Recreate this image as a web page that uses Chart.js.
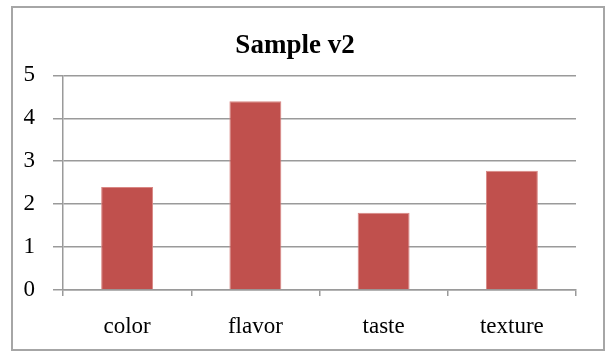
<!DOCTYPE html>
<html>
<head>
<meta charset="utf-8">
<script src="https://cdn.jsdelivr.net/npm/chart.js@4/dist/chart.umd.min.js"></script>
<style>
  html, body { margin: 0; padding: 0; background: #fff; }
  #wrap { width: 606px; height: 352px; }
</style>
</head>
<body>
<div id="wrap"><canvas id="c" width="606" height="352"></canvas></div>
<script>
// Chart data
const categories = ['color', 'flavor', 'taste', 'texture'];
const scores = [2.4, 4.4, 1.8, 2.78];
const yTicks = [0, 1, 2, 3, 4, 5];
const chartTitle = 'Sample v2';

const GRID = '#9a9a9a';
const SERIF = '"Liberation Serif", "Times New Roman", serif';

// White background with a thin grey frame around the chart
const frame = {
  id: 'frame',
  beforeDraw(chart) {
    const ctx = chart.ctx;
    ctx.save();
    ctx.fillStyle = '#ffffff';
    ctx.fillRect(0, 0, chart.width, chart.height);
    ctx.strokeStyle = '#a6a6a6';
    ctx.lineWidth = 2;
    ctx.strokeRect(12, 7, 592, 343);
    ctx.restore();
  }
};

new Chart(document.getElementById('c'), {
  type: 'bar',
  data: {
    labels: categories,
    datasets: [{
      data: scores,
      backgroundColor: '#c0504d',
      borderColor: '#d98784',
      borderWidth: 1,
      categoryPercentage: 1,
      barPercentage: 0.405
    }]
  },
  options: {
    responsive: false,
    animation: false,
    layout: { padding: { top: 10, left: 14, right: 30, bottom: 8 } },
    plugins: {
      legend: { display: false },
      tooltip: { enabled: false },
      title: {
        display: true,
        text: chartTitle,
        color: '#000',
        font: { family: SERIF, size: 27, weight: 'bold', lineHeight: 1.2 },
        padding: { top: 20, bottom: 13 }
      }
    },
    scales: {
      x: {
        grid: { display: true, drawOnChartArea: false, drawTicks: true, tickLength: 6, color: GRID, lineWidth: 1.5, offset: true },
        border: { display: true, color: GRID, width: 1.5 },
        ticks: { color: '#000', padding: 17, font: { family: SERIF, size: 23 }, maxRotation: 0 },
        afterFit(scale) { scale.height = 54; }
      },
      y: {
        min: 0,
        max: 5,
        afterBuildTicks(scale) { scale.ticks = yTicks.map(v => ({ value: v })); },
        grid: { color: GRID, lineWidth: 1.5, tickLength: 10 },
        border: { display: true, color: GRID, width: 1.5 },
        ticks: { color: '#000', padding: 18, font: { family: SERIF, size: 23 } },
        afterFit(scale) { scale.width = 49; }
      }
    }
  },
  plugins: [frame]
});
</script>
</body>
</html>
